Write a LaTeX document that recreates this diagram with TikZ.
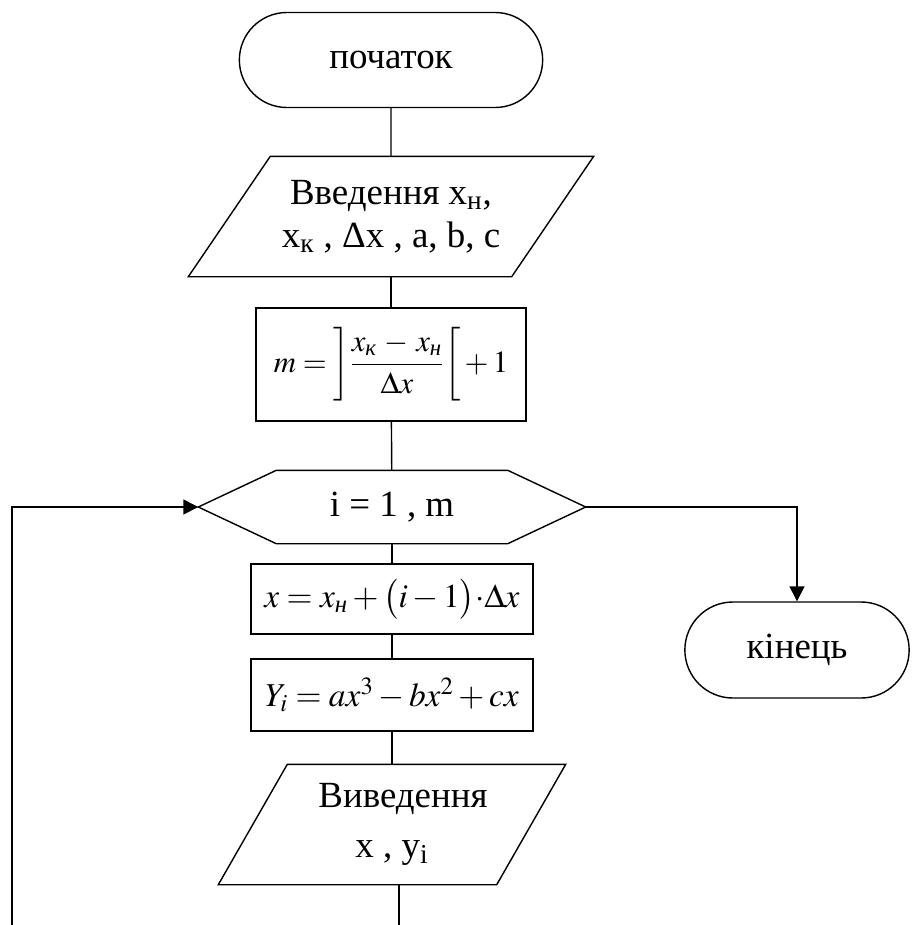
\documentclass[tikz,border=0pt]{standalone}
\usepackage{amsmath}
\usepackage{mathptmx}
\usepackage[no-math]{fontspec}
\setmainfont{Liberation Serif}
\usetikzlibrary{shapes.misc,arrows.meta}

\begin{document}
\begin{tikzpicture}[
    line width=0.8pt,
    every node/.style={font=\fontsize{21}{24.5}\selectfont},
    terminal/.style={rounded rectangle, draw, minimum width=6.3cm, minimum height=1.9cm},
    process/.style={rectangle, draw, minimum width=5.64cm, minimum height=1.42cm,
        font=\fontsize{19}{23}\selectfont,
        execute at begin node={\thickmuskip=4mu\relax\medmuskip=2.5mu\relax}},
    io/.style={rectangle, minimum height=2.38cm, align=center},
    loophex/.style={rectangle, minimum width=7.72cm, minimum height=1.44cm},
    flow/.style={-{Triangle[length=0.3cm, width=0.3cm]}}
]
\useasboundingbox (0,0) rectangle (18.26,-18.5);
\clip (0,0) rectangle (18.26,-18.5);

% Blocks
\node[terminal] (start) at (7.82,-1.20) {початок};

\node[io, minimum width=6.44cm] (input) at (7.82,-4.33)
    {Введення x\textsubscript{н},\\x\textsubscript{к} , Δx , a, b, c};
\draw ([xshift=0.82cm]input.north west) -- ([xshift=0.82cm]input.north east)
    -- ([xshift=-0.82cm]input.south east) -- ([xshift=-0.82cm]input.south west) -- cycle;

\node[process, minimum width=5.4cm, minimum height=2.26cm, font=\fontsize{17.5}{22}\selectfont] (count) at (7.82,-7.29)
    {$m=\left]\dfrac{x_{\textit{к}}\mathbin{\mkern2mu-\mkern2mu}x_{\textit{н}}}{\Delta x}\right[+1$};

\node[loophex] (loop) at (7.84,-10.14) {i = 1 , m};
\draw (loop.west) -- ([xshift=1.56cm]loop.north west) -- ([xshift=-1.56cm]loop.north east)
    -- (loop.east) -- ([xshift=-1.56cm]loop.south east) -- ([xshift=1.56cm]loop.south west) -- cycle;

\node[process, minimum height=1.4cm] (xval) at (7.84,-11.98)
    {$x=x_{\textit{н}}+\bigl(i-1\bigr){\cdot}\Delta x$};

\node[process, minimum height=1.44cm] (yval) at (7.84,-13.90)
    {$Y_i=ax^3-bx^2+cx$};

\node[io, minimum width=5.54cm] (output) at (7.84,-16.49)
    {\hspace{0.44cm}Виведення\\[4pt]x , y\textsubscript{i}};
\draw ([xshift=0.69cm]output.north west) -- ([xshift=0.69cm]output.north east)
    -- ([xshift=-0.69cm]output.south east) -- ([xshift=-0.69cm]output.south west) -- cycle;

\node[terminal, minimum width=4.72cm, minimum height=1.92cm] (finish) at (15.94,-13.0) {кінець};

\coordinate (back) at (0.24,-18.8);

% Connections
\draw (start) -- (input);
\draw (input) -- (count);
\draw (count) -- (loop);
\draw (loop) -- (xval);
\draw (xval) -- (yval);
\draw (yval) -- (output);
\draw[flow] ([xshift=0.14cm]output.south) |- (back) |- (loop.west);
\draw[flow] (loop.east) -| (finish.north);

\end{tikzpicture}
\end{document}
